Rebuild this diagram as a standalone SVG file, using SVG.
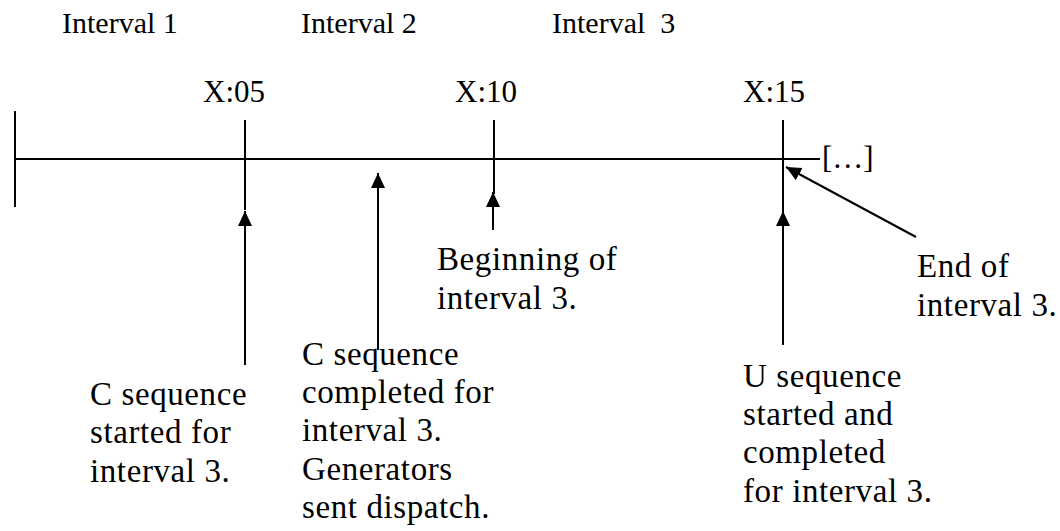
<svg xmlns="http://www.w3.org/2000/svg" width="1060" height="531" viewBox="0 0 1060 531">
<style>
text{fill:#000}
.top{font-size:30px}
.tick{font-size:31px}
.lbl{font-size:33px;letter-spacing:0.6px}
.ln{stroke:#000;stroke-width:2;fill:none}
</style>
<defs>
<marker id="ah" markerUnits="userSpaceOnUse" markerWidth="16" markerHeight="16" viewBox="0 0 16 16" refX="15" refY="8" orient="auto">
<path d="M0,1 L15,8 L0,15 Z" fill="#000"/>
</marker>
</defs>
<rect width="1060" height="531" fill="#fff"/>
<g font-family="'Liberation Serif', 'Times New Roman', 'DejaVu Serif', serif">
<g id="headers">
<text class="top" x="62" y="33">Interval 1</text>
<text class="top" x="301" y="33">Interval 2</text>
<text class="top" x="552" y="33" xml:space="preserve">Interval  3</text>
</g>
<g id="timeline">
<line class="ln" x1="15" y1="159" x2="820" y2="159"/>
<line class="ln" x1="15" y1="111" x2="15" y2="207"/>
<text class="tick" x="822" y="168">[…]</text>
</g>
<g id="t05">
<line class="ln" x1="245" y1="120" x2="245" y2="210"/>
<text class="tick" x="203" y="102">X:05</text>
</g>
<g id="t10">
<line class="ln" x1="494" y1="120" x2="494" y2="194"/>
<text class="tick" x="455" y="102">X:10</text>
</g>
<g id="t15">
<line class="ln" x1="783" y1="120" x2="783" y2="212"/>
<text class="tick" x="743" y="102">X:15</text>
</g>
<g id="connectors">
<line class="ln" x1="245" y1="365" x2="245" y2="211" marker-end="url(#ah)"/>
<line class="ln" x1="378" y1="350" x2="378" y2="173" marker-end="url(#ah)"/>
<line class="ln" x1="493" y1="230" x2="493" y2="192" marker-end="url(#ah)"/>
<line class="ln" x1="783" y1="345" x2="783" y2="211" marker-end="url(#ah)"/>
<line class="ln" x1="916" y1="237" x2="786" y2="167" marker-end="url(#ah)"/>
</g>
<g id="c-start">
<text class="lbl" x="90" y="405">C sequence</text>
<text class="lbl" x="90" y="443">started for</text>
<text class="lbl" x="90" y="482">interval 3.</text>
</g>
<g id="c-complete">
<text class="lbl" x="302" y="365">C sequence</text>
<text class="lbl" x="302" y="403">completed for</text>
<text class="lbl" x="302" y="441">interval 3.</text>
<text class="lbl" x="302" y="480">Generators</text>
<text class="lbl" x="302" y="518">sent dispatch.</text>
</g>
<g id="begin">
<text class="lbl" x="437" y="270">Beginning of</text>
<text class="lbl" x="437" y="309">interval 3.</text>
</g>
<g id="end">
<text class="lbl" x="917" y="277">End of</text>
<text class="lbl" x="917" y="316">interval 3.</text>
</g>
<g id="u-seq">
<text class="lbl" x="743" y="387">U sequence</text>
<text class="lbl" x="743" y="425">started and</text>
<text class="lbl" x="743" y="463">completed</text>
<text class="lbl" x="743" y="502">for interval 3.</text>
</g>
</g>
</svg>
